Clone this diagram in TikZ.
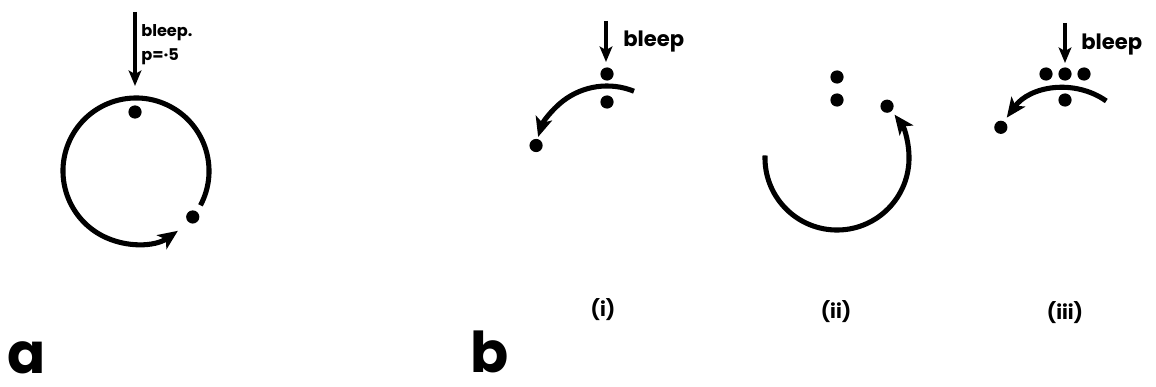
\documentclass[tikz,border=0pt]{standalone}
\usepackage{fontspec}
\setmainfont{Poppins}
\usetikzlibrary{arrows.meta, positioning, calc}

\begin{document}
\begin{tikzpicture}[x=0.025cm, y=0.025cm,
  dot/.style={circle, fill=black, inner sep=0pt, minimum size=0.33cm},
  orbit/.style={line width=3.6pt, -{Stealth[length=14pt, width=12pt, inset=3.5pt]}},
  bleeparr/.style={line width=2.3pt, -{Stealth[length=11pt, width=9pt, inset=2.5pt]}},
  note/.style={font=\bfseries\fontsize{15}{18}\selectfont, anchor=west, inner sep=0pt},
  case/.style={font=\bfseries\fontsize{14}{16}\selectfont, inner sep=0pt},
  panel/.style={font=\bfseries\fontsize{40}{44}\selectfont, anchor=base west, inner sep=0pt}]
  \useasboundingbox (0,0) rectangle (1156,-387);
  % panel a
  \coordinate (ca) at (136,-171);
  \coordinate (ta) at (135,-12);
  \coordinate (ha) at (135,-86);
  \draw[orbit] (ca) ++(-28:1.825cm) arc[start angle=-28, end angle=305, radius=1.825cm];
  \node[dot] (topa) at (135,-112) {};
  \node[dot] (enda) at ($(ca)+(-39:1.825cm)$) {};
  \draw[bleeparr] (ta) -- (ha);
  \node[anchor=west, align=left, inner sep=0pt, font=\bfseries\fontsize{11.5}{17}\selectfont]
    (texta) at (141,-45) {bleep.\\p=·5};
  \node[panel] (laba) at (7,-373) {a};
  % panel b (i)
  \coordinate (c1) at (607,-158);
  \coordinate (t1) at (606,-21);
  \coordinate (h1) at (606,-62);
  \draw[orbit] (c1) ++(68:1.8cm) arc[start angle=68, end angle=163, radius=1.8cm];
  \node[dot] (up1) at (607,-74) {};
  \node[dot] (lo1) at (607,-102) {};
  \node[dot] (end1) at ($(c1)+(170:1.8cm)$) {};
  \draw[bleeparr] (t1) -- (h1);
  \node[note] (bl1) at (623,-42) {bleep};
  \node[case] (lab1) at (603,-310) {(i)};
  % panel b (ii)
  \coordinate (c2) at (837,-158);
  \draw[orbit] (c2) ++(178:1.8cm) arc[start angle=178, end angle=397, radius=1.8cm];
  \node[dot] (up2) at (837,-77) {};
  \node[dot] (lo2) at (837,-100) {};
  \node[dot] (end2) at ($(c2)+(46:1.8cm)$) {};
  \node[case] (lab2) at (836,-312) {(ii)};
  % panel b (iii)
  \coordinate (c3) at (1065,-160);
  \coordinate (t3) at (1065,-23);
  \coordinate (h3) at (1065,-63);
  \draw[orbit] (c3) ++(55:1.8cm) arc[start angle=55, end angle=144, radius=1.8cm];
  \node[dot] (upl3) at (1046,-74) {};
  \node[dot] (upm3) at (1065,-74) {};
  \node[dot] (upr3) at (1084,-74) {};
  \node[dot] (lo3) at (1065,-100) {};
  \node[dot] (end3) at ($(c3)+(153:1.8cm)$) {};
  \draw[bleeparr] (t3) -- (h3);
  \node[note] (bl3) at (1081,-45) {bleep};
  \node[case] (lab3) at (1065,-313) {(iii)};
  \node[panel] (labb) at (470,-372) {b};
\end{tikzpicture}
\end{document}
